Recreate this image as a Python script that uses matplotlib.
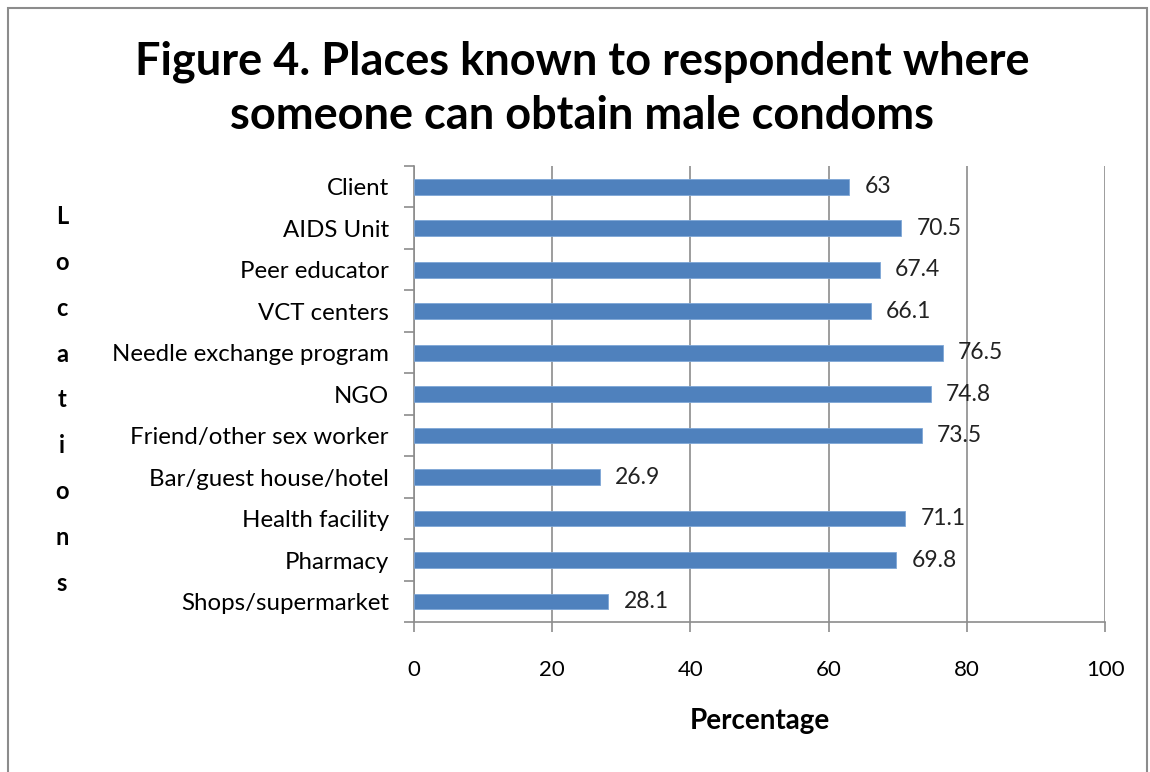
import numpy as np
import matplotlib.pyplot as plt
from matplotlib.patches import Rectangle

categories = ["Shops/supermarket", "Pharmacy", "Health facility", "Bar/guest house/hotel",
              "Friend/other sex worker", "NGO", "Needle exchange program", "VCT centers",
              "Peer educator", "AIDS Unit", "Client"]
values = [28.1, 69.8, 71.1, 26.9, 73.5, 74.8, 76.5, 66.1, 67.4, 70.5, 63]
value_labels = ["28.1", "69.8", "71.1", "26.9", "73.5", "74.8", "76.5", "66.1", "67.4", "70.5", "63"]
x_ticks = [0, 20, 40, 60, 80, 100]

plt.rcParams['font.family'] = ['Lato', 'DejaVu Sans']

fig = plt.figure(figsize=(11.5, 7.72), dpi=100)
fig.patches.append(Rectangle((0.007, -0.01), 0.99, 1.0, transform=fig.transFigure,
                             fill=False, edgecolor='#8c8c8c', linewidth=1.5))

ax = fig.add_axes([0.36, 0.194, 0.601, 0.591])
y = np.arange(len(categories))
ax.barh(y, values, height=0.38, color='#4F81BD', edgecolor='#7ea6d6', linewidth=0.6, zorder=3)

for yi, v, lab in zip(y, values, value_labels):
    ax.text(v + 2.2, yi, lab, va='center', ha='left', fontsize=16.5, color='#222222')

ax.set_xlim(0, 100)
ax.set_ylim(-0.5, len(categories) - 0.5)
ax.set_xticks(x_ticks)
ax.set_yticks(y)
ax.set_yticklabels(categories, fontsize=17.3)
ax.set_yticks(np.arange(-0.5, len(categories), 1), minor=True)
ax.tick_params(axis='y', which='major', length=0, pad=18)
ax.tick_params(axis='y', which='minor', length=7, color='#8c8c8c', width=1.2)
ax.tick_params(axis='x', labelsize=16, length=7, color='#8c8c8c', width=1.2, pad=20)
ax.grid(axis='x', color='#8c8c8c', linewidth=1.2, zorder=0)

for s in ['top', 'right']:
    ax.spines[s].set_visible(False)
for s in ['left', 'bottom']:
    ax.spines[s].set_color('#8c8c8c')
    ax.spines[s].set_linewidth(1.2)

ax.set_xlabel("Percentage", fontsize=20, fontweight='bold', labelpad=20)

fig.text(0.506, 0.885, "Figure 4. Places known to respondent where\nsomeone can obtain male condoms",
         ha='center', va='center', fontsize=32.5, fontweight='bold', linespacing=1.35)

fig.text(0.054, 0.482, "\n".join("Locations"), ha='center', va='center', fontsize=17,
         fontweight='bold', linespacing=2.2)

fig.savefig("out.png", dpi=100)
